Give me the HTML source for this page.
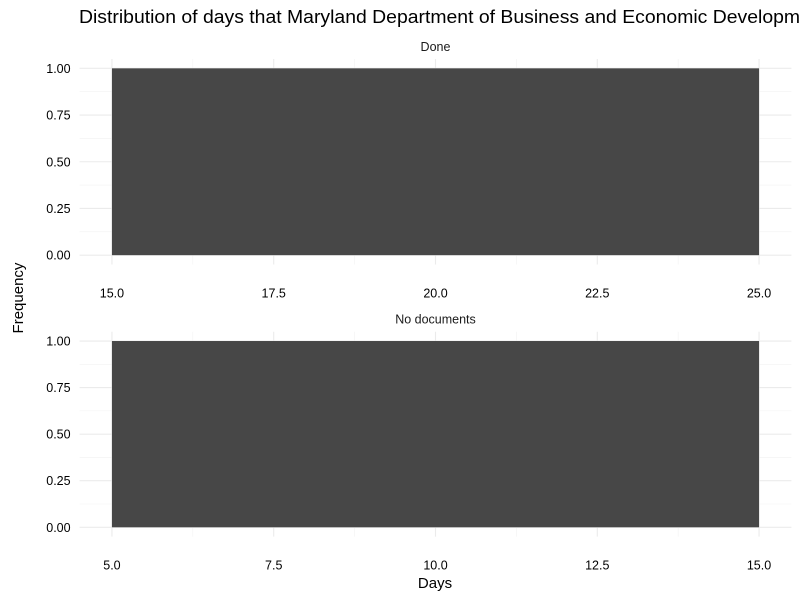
<!DOCTYPE html>
<html><head><meta charset="utf-8"><style>
body{margin:0;background:#fff;font-family:"Liberation Sans",Arial,sans-serif;overflow:hidden}
svg text{font-family:"Liberation Sans",Arial,sans-serif}
</style></head><body>
<svg id="chart" width="800" height="600" xmlns="http://www.w3.org/2000/svg">
<text x="79" y="23" font-size="18.6" textLength="748" lengthAdjust="spacingAndGlyphs" fill="#000">Distribution of days that Maryland Department of Business and Economic Development</text>
<text transform="translate(23,298) rotate(-90)" text-anchor="middle" font-size="15">Frequency</text>
<text x="435" y="588" text-anchor="middle" font-size="15">Days</text>
</svg>
<script>
const panelNames = ["Done", "No documents"];
const binStarts = [15, 5];
const binEnds = [25, 15];
const counts = [1, 1];
const xTicks = [[15.0, 17.5, 20.0, 22.5, 25.0], [5.0, 7.5, 10.0, 12.5, 15.0]];
const yTicks = [0, 0.25, 0.5, 0.75, 1.0];

const svg = document.getElementById('chart');
const NS = 'http://www.w3.org/2000/svg';
function mk(tag, attrs){const e=document.createElementNS(NS,tag);for(const k in attrs)e.setAttribute(k,attrs[k]);svg.appendChild(e);return e;}
const panels=[{top:59,bottom:264.5},{top:331.7,bottom:536.6}];
const L=79.6,R=791.4;
panels.forEach((p,i)=>{
  const xmin=binStarts[i],xmax=binEnds[i],span=xmax-xmin;
  const x0=xmin-span*0.05,x1=xmax+span*0.05;
  const ymax=Math.max(...counts.slice(i,i+1),1);
  const y0=-0.05*ymax,y1=1.05*ymax;
  const sx=v=>L+(v-x0)/(x1-x0)*(R-L);
  const sy=v=>p.bottom-(v-y0)/(y1-y0)*(p.bottom-p.top);
  const t=xTicks[i];
  for(let k=0;k<t.length-1;k++){const m=(t[k]+t[k+1])/2;const l=mk('line',{x1:sx(m),x2:sx(m),y1:p.top,y2:p.bottom,stroke:'#f2f2f2','stroke-width':0.6});
    
    }
  for(let k=0;k<yTicks.length-1;k++){const m=(yTicks[k]+yTicks[k+1])/2;const l=mk('line',{x1:L,x2:R,y1:sy(m),y2:sy(m),stroke:'#f2f2f2','stroke-width':0.6});
    
    }
  t.forEach(v=>{const l=mk('line',{x1:sx(v),x2:sx(v),y1:p.top,y2:p.bottom,stroke:'#ebebeb','stroke-width':1.1});
    
    
    const tx=mk('text',{x:sx(v),y:p.bottom+33,'text-anchor':'middle','font-size':12.5,fill:'#000'});tx.textContent=v.toFixed(1);
    
    });
  yTicks.forEach(v=>{const l=mk('line',{x1:L,x2:R,y1:sy(v),y2:sy(v),stroke:'#ebebeb','stroke-width':1.1});
    
    
    const tx=mk('text',{x:L-9,y:sy(v)+4.5,'text-anchor':'end','font-size':12.5,fill:'#000'});tx.textContent=v.toFixed(2);
    
    });
  const b=mk('rect',{x:sx(binStarts[i]),y:sy(counts[i]),width:sx(binEnds[i])-sx(binStarts[i]),height:sy(0)-sy(counts[i]),fill:'#474747'});
  
  
  const st=mk('text',{x:(L+R)/2,y:p.top-8,'text-anchor':'middle','font-size':12.5,fill:'#1a1a1a'});st.textContent=panelNames[i];
  
  
});
</script>
</body></html>
